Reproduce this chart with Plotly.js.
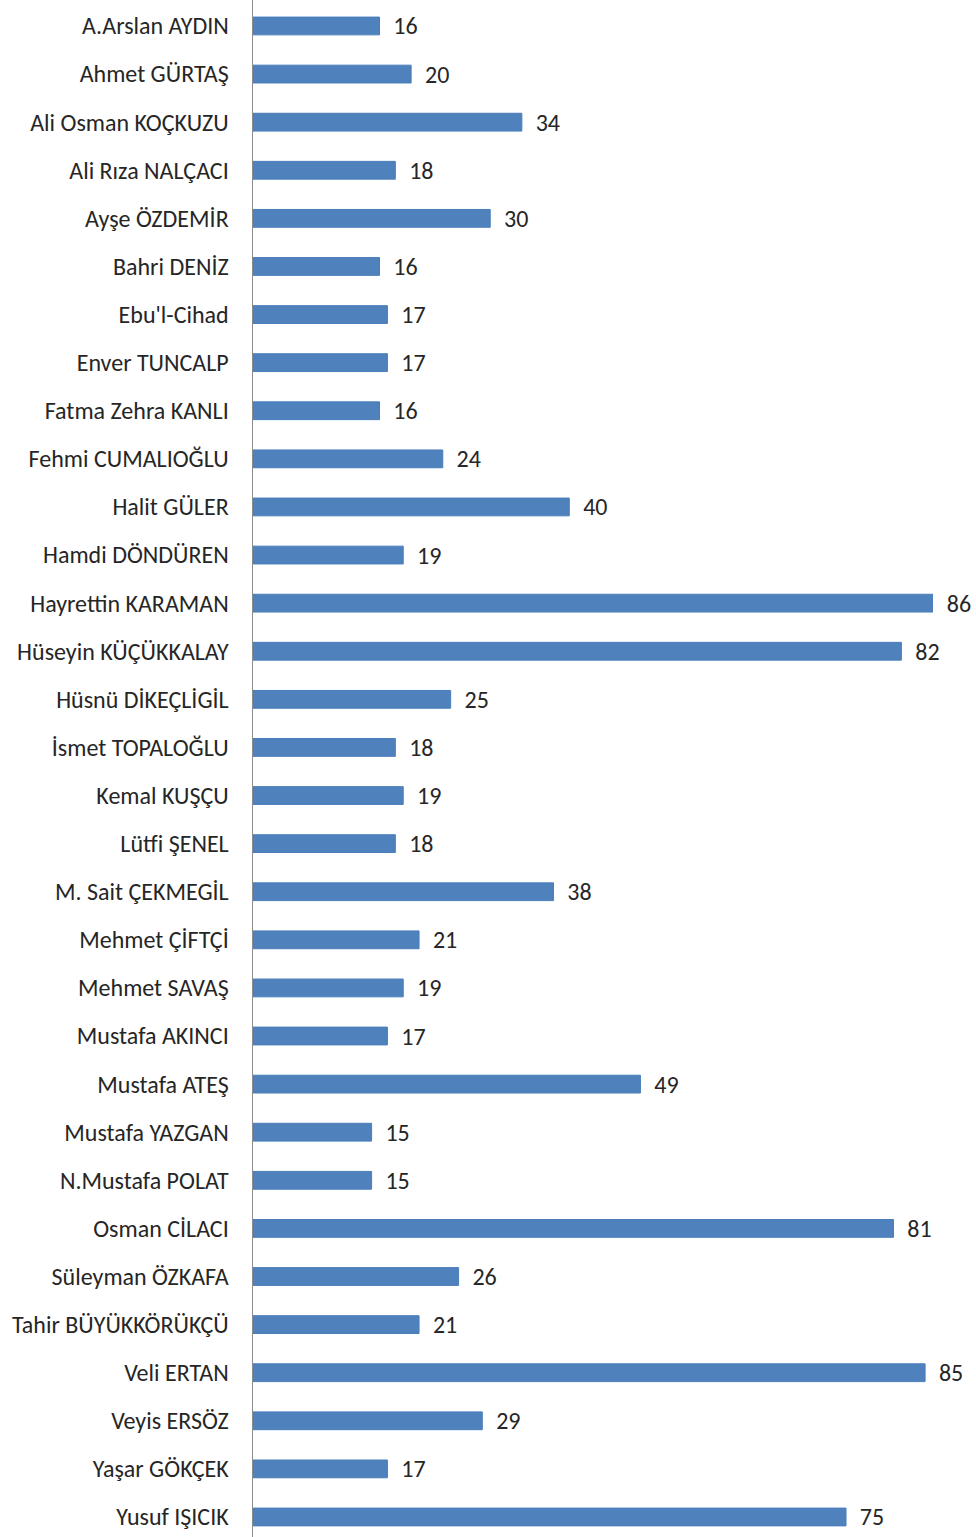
<!DOCTYPE html>
<html><head><meta charset="utf-8">
<script src="https://cdn.plot.ly/plotly-3.0.1.min.js"></script>
<style>body{margin:0;background:#fff}#c{width:976px;height:1537px}</style>
</head><body><div id="c"></div>
<script>
const names = ["A.Arslan AYDIN","Ahmet GÜRTAŞ","Ali Osman KOÇKUZU","Ali Rıza NALÇACI","Ayşe ÖZDEMİR","Bahri DENİZ","Ebu'l-Cihad","Enver TUNCALP","Fatma Zehra KANLI","Fehmi CUMALIOĞLU","Halit GÜLER","Hamdi DÖNDÜREN","Hayrettin KARAMAN","Hüseyin KÜÇÜKKALAY","Hüsnü DİKEÇLİGİL","İsmet TOPALOĞLU","Kemal KUŞÇU","Lütfi ŞENEL","M. Sait ÇEKMEGİL","Mehmet ÇİFTÇİ","Mehmet SAVAŞ","Mustafa AKINCI","Mustafa ATEŞ","Mustafa YAZGAN","N.Mustafa POLAT","Osman CİLACI","Süleyman ÖZKAFA","Tahir BÜYÜKKÖRÜKÇÜ","Veli ERTAN","Veyis ERSÖZ","Yaşar GÖKÇEK","Yusuf IŞICIK"];
const counts = [16,20,34,18,30,16,17,17,16,24,40,19,86,82,25,18,19,18,38,21,19,17,49,15,15,81,26,21,85,29,17,75];

const fontFam = "Carlito, Lato, 'Open Sans', sans-serif";
Plotly.newPlot('c', [{
  type: 'bar', orientation: 'h',
  x: counts, y: names,
  marker: {color: '#4f81bd', line: {color: '#4a7ebb', width: 1}},
  width: 0.37,
  text: counts.map(String),
  texttemplate: '  %{text}',
  textposition: 'outside',
  constraintext: 'none',
  textfont: {family: fontFam, size: 24, color: '#262626'},
  cliponaxis: false,
  hoverinfo: 'none'
}], {
  width: 976, height: 1537,
  margin: {l: 253, r: 43, t: 0, b: 0},
  paper_bgcolor: '#fff', plot_bgcolor: '#fff',
  showlegend: false,
  xaxis: {range: [0, 86], showgrid: false, zeroline: false, showticklabels: false, showline: false, fixedrange: true},
  yaxis: {type: 'category', range: [31.416, -0.54], showgrid: false, zeroline: false,
          showline: true, linecolor: '#8c8c8c', linewidth: 1.5,
          ticks: 'outside', ticklen: 18, tickcolor: 'rgba(0,0,0,0)',
          tickfont: {family: fontFam, size: 24, color: '#262626'}, automargin: false},
  font: {family: fontFam}
}, {staticPlot: true});
</script></body></html>
